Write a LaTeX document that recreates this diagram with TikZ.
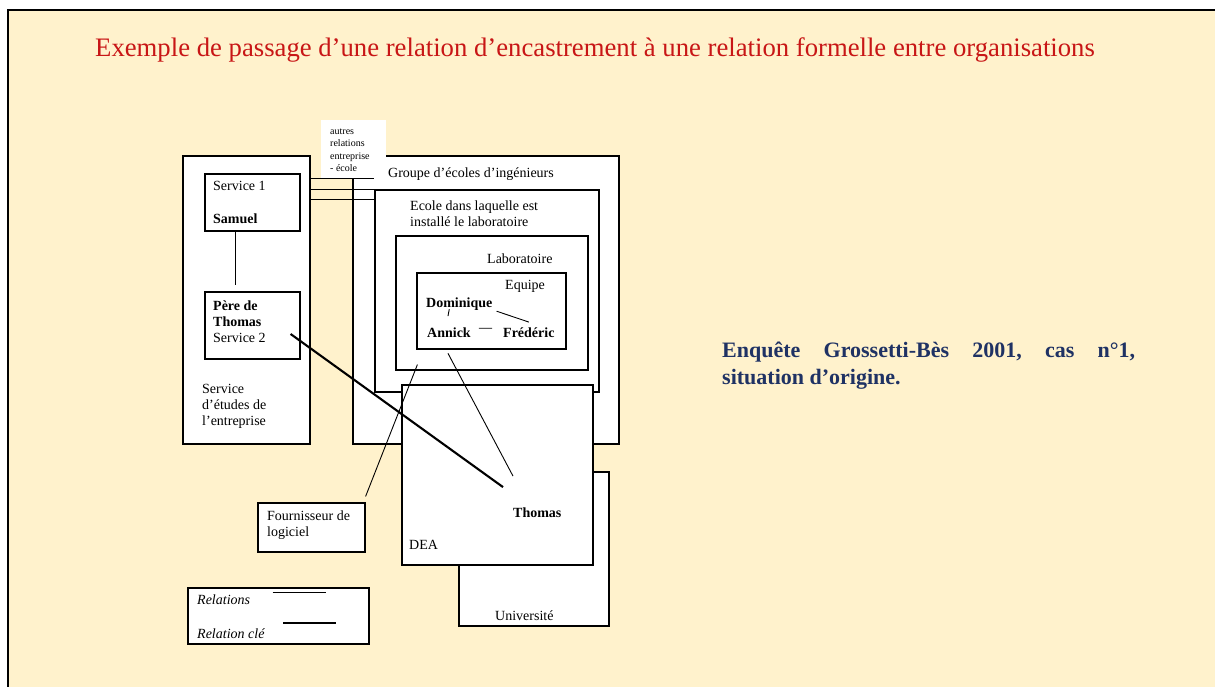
\documentclass[tikz,border=0pt]{standalone}
\usepackage{fontspec}
\setmainfont{Liberation Serif}
\usepackage{xcolor}
\usepackage{tikz}
\usetikzlibrary{calc}

\definecolor{creme}{RGB}{255,242,204}
\definecolor{rougetitre}{RGB}{200,22,22}
\definecolor{bleunuit}{RGB}{31,50,100}

\begin{document}
\begin{tikzpicture}[x=1pt, y=-1pt,
    boite/.style={rectangle, draw, fill=white, line width=1.2pt, inner sep=0pt},
    txt/.style={anchor=base west, inner sep=0pt, align=left, font=\fontsize{14}{16}\selectfont},
    gras/.style={txt, font=\fontsize{14}{16}\selectfont\bfseries},
    relation/.style={line width=0.9pt},
    relcle/.style={line width=2.1pt}]

        % Fond de la diapositive
        \useasboundingbox (0,0) rectangle (1215,687);
        \fill[white] (0,0) rectangle (1215,687);
        \fill[creme] (8,10) rectangle (1215,687);
        \draw[line width=2.5pt] (8,687) -- (8,10) -- (1215,10);

        % Titre
        \node[anchor=base west, inner sep=0pt, text=rougetitre, font=\fontsize{26.7}{30}\selectfont] (titre) at (95,57) {Exemple de passage d’une relation d’encastrement à une relation formelle entre organisations};

        % Entreprise (multi-lignes : base = derniere ligne)
        \node[boite, minimum width=127pt, minimum height=288pt] (etudes) at (246.5,300) {};
        \node[boite, minimum width=95pt, minimum height=57pt] (svc1) at (252.5,202.5) {};
        \node[boite, minimum width=95pt, minimum height=67pt] (pere) at (252.5,325.5) {};
        \node[txt] (svc1txt) at (213,191) {Service 1};
        \node[gras] (samuel) at (213,223) {Samuel};
        \node[txt] (peretxt) at (213,342) {\textbf{Père de}\\\textbf{Thomas}\\Service 2};
        \node[txt] (etudestxt) at (202,425) {Service\\d’études de\\l’entreprise};

        % Groupe d'écoles
        \node[boite, minimum width=266pt, minimum height=288pt] (groupe) at (486,300) {};
        \node[rectangle, fill=white, minimum width=65pt, minimum height=58pt] (autres) at (353.5,149) {};
        \node[txt, font=\fontsize{10}{12.6}\selectfont] (autrestxt) at (330,172) {autres\\relations\\entreprise\\- école};
        \node[txt] (groupetxt) at (388,178) {Groupe d’écoles d’ingénieurs};
        \node[boite, minimum width=224pt, minimum height=202pt] (ecole) at (487,291) {};
        \foreach \dy in {-11,0,10}
            \draw[relation] ($(etudes.east |- ecole.north)+(0,\dy)$) -- ($(ecole.north west)+(0,\dy)$);
        \node[txt] (ecoletxt) at (410,226) {Ecole dans laquelle est\\installé le laboratoire};

        % Laboratoire et équipe
        \node[boite, minimum width=192pt, minimum height=134pt] (labo) at (492,303) {};
        \node[txt] (labotxt) at (487,263) {Laboratoire};
        \node[boite, minimum width=149pt, minimum height=76pt] (equipe) at (491.5,311) {};
        \node[txt] (equipetxt) at (505,289) {Equipe};
        \node[gras] (domi) at (426,307) {Dominique};
        \node[gras] (annick) at (427,337) {Annick};
        \node[gras] (frede) at (503,337) {Frédéric};
        \draw[relation] ($(domi.south)+(-10,-1)$) -- ($(annick.north)+(-1,-11)$);
        \draw[relation] ($(domi.south east)+(4,1)$) -- ($(frede.north)+(0,-5)$);
        \draw[relation] ($(annick.east)+(8,-4)$) -- ($(frede.west)+(-11,-4)$);

        % Université et DEA
        \node[boite, minimum width=150pt, minimum height=154pt] (univ) at (534,549) {};
        \node[txt] (univtxt) at (495,620) {Université};
        \node[boite, minimum width=191pt, minimum height=180pt] (dea) at (497.5,475) {};
        \node[txt] (deatxt) at (409,549) {DEA};
        \node[gras] (thomas) at (513,517) {Thomas};

        % Fournisseur
        \node[boite, minimum width=107pt, minimum height=49pt] (fourn) at (311.5,527.5) {};
        \node[txt] (fourntxt) at (267,536) {Fournisseur de\\logiciel};

        % Relations
        \draw[relation] (svc1.south -| samuel.south) -- ($(pere.north -| samuel.south)+(0,-6)$);
        \draw[relcle] ($(pere.east)+(-10,8.5)$) -- ($(thomas.north west)+(-10,-20)$);
        \draw[relation] ($(annick.south)+(-1,16)$) -- ($(thomas.north west)+(0,-31)$);
        \draw[relation] ($(fourn.north east)+(0,-6)$) -- ($(labo.south west)+(22,-6)$);

        % Légende
        \node[boite, minimum width=181pt, minimum height=56pt] (legende) at (278.5,616) {};
        \node[txt, font=\fontsize{14}{16}\selectfont\itshape] (reltxt) at (197,604) {Relations};
        \node[txt, font=\fontsize{14}{16}\selectfont\itshape] (relcletxt) at (197,638) {Relation clé};
        \draw[relation] ($(legende.north)+(-6,5)$) -- ++(53,0);
        \draw[relcle] ($(legende.north)+(4.5,36)$) -- ++(53,0);

        % Enquête
        \node[txt, text=bleunuit, font=\fontsize{22}{27}\selectfont\bfseries] (enquete) at (722,384) {\hbox to 413pt{Enquête\hfill Grossetti-Bès\hfill 2001,\hfill cas\hfill n°1,}\\situation d’origine.};
    \end{tikzpicture}
\end{document}
